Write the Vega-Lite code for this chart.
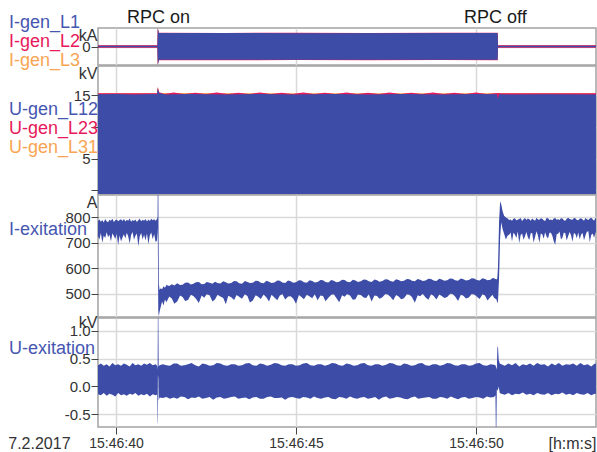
{
"$schema": "https://vega.github.io/schema/vega-lite/v6.json",
"padding": {"left": 8, "top": 8, "right": 0, "bottom": 0},
"background": "white",
"title": {"text": "7.2.2017", "orient": "bottom", "anchor": "start", "offset": -16, "fontSize": 16, "fontWeight": "normal", "color": "#333333", "font": "Liberation Sans"},
"config": {
  "font": "Liberation Sans",
  "view": {"stroke": "#a3a3a3", "strokeWidth": 1.5},
  "axis": {"gridColor": "#d9d9d9", "gridWidth": 1.5, "domain": false, "tickColor": "#444444", "tickSize": 7, "labelFont": "Liberation Sans", "labelFontSize": 15, "labelColor": "#333333", "labelPadding": 1, "titleFont": "Liberation Sans", "titleFontSize": 16, "titleFontWeight": "normal", "titleColor": "#333333"}
},
"datasets": {
  "events": [{"t": 41.18, "label": "RPC on"}, {"t": 50.54, "label": "RPC off"}],
  "igen": [
    {"s": "I-gen_L1", "t": 39.5, "hi": 0.035, "lo": -0.035},
    {"s": "I-gen_L1", "t": 41.15, "hi": 0.035, "lo": -0.035},
    {"s": "I-gen_L1", "t": 41.16, "hi": 0.88, "lo": -0.88},
    {"s": "I-gen_L1", "t": 41.175, "hi": 0.8, "lo": -0.8},
    {"s": "I-gen_L1", "t": 41.19, "hi": 0.66, "lo": -0.65},
    {"s": "I-gen_L1", "t": 45.0, "hi": 0.65, "lo": -0.65},
    {"s": "I-gen_L1", "t": 50.6, "hi": 0.66, "lo": -0.65},
    {"s": "I-gen_L1", "t": 50.61, "hi": 0.035, "lo": -0.035},
    {"s": "I-gen_L1", "t": 53.4, "hi": 0.035, "lo": -0.035},
    {"s": "I-gen_L2", "t": 39.5, "hi": 0.055, "lo": -0.055},
    {"s": "I-gen_L2", "t": 41.15, "hi": 0.055, "lo": -0.055},
    {"s": "I-gen_L2", "t": 41.16, "hi": 0.9, "lo": -0.9},
    {"s": "I-gen_L2", "t": 41.19, "hi": 0.668, "lo": -0.668},
    {"s": "I-gen_L2", "t": 43.0, "hi": 0.662, "lo": -0.666},
    {"s": "I-gen_L2", "t": 45.0, "hi": 0.668, "lo": -0.66},
    {"s": "I-gen_L2", "t": 47.0, "hi": 0.661, "lo": -0.668},
    {"s": "I-gen_L2", "t": 49.0, "hi": 0.668, "lo": -0.661},
    {"s": "I-gen_L2", "t": 50.6, "hi": 0.665, "lo": -0.665},
    {"s": "I-gen_L2", "t": 50.61, "hi": 0.055, "lo": -0.055},
    {"s": "I-gen_L2", "t": 53.4, "hi": 0.055, "lo": -0.055},
    {"s": "I-gen_L3", "t": 39.5, "hi": 0.05, "lo": -0.05},
    {"s": "I-gen_L3", "t": 41.15, "hi": 0.05, "lo": -0.05},
    {"s": "I-gen_L3", "t": 41.16, "hi": 0.89, "lo": -0.89},
    {"s": "I-gen_L3", "t": 41.19, "hi": 0.662, "lo": -0.662},
    {"s": "I-gen_L3", "t": 50.6, "hi": 0.662, "lo": -0.662},
    {"s": "I-gen_L3", "t": 50.61, "hi": 0.05, "lo": -0.05},
    {"s": "I-gen_L3", "t": 53.4, "hi": 0.05, "lo": -0.05}
  ],
  "ugen": [
    {"s": "U-gen_L12", "t": 39.5, "hi": 15.15}, {"s": "U-gen_L12", "t": 40.0, "hi": 15.2}, {"s": "U-gen_L12", "t": 40.5, "hi": 15.12}, {"s": "U-gen_L12", "t": 41.0, "hi": 15.2}, {"s": "U-gen_L12", "t": 41.14, "hi": 15.15}, {"s": "U-gen_L12", "t": 41.16, "hi": 16.1}, {"s": "U-gen_L12", "t": 41.2, "hi": 15.3}, {"s": "U-gen_L12", "t": 41.4, "hi": 15.12}, {"s": "U-gen_L12", "t": 42.0, "hi": 15.2}, {"s": "U-gen_L12", "t": 43.0, "hi": 15.12}, {"s": "U-gen_L12", "t": 44.0, "hi": 15.2}, {"s": "U-gen_L12", "t": 45.0, "hi": 15.12}, {"s": "U-gen_L12", "t": 46.0, "hi": 15.2}, {"s": "U-gen_L12", "t": 47.0, "hi": 15.12}, {"s": "U-gen_L12", "t": 48.0, "hi": 15.2}, {"s": "U-gen_L12", "t": 49.0, "hi": 15.12}, {"s": "U-gen_L12", "t": 50.0, "hi": 15.2}, {"s": "U-gen_L12", "t": 50.58, "hi": 15.15}, {"s": "U-gen_L12", "t": 50.61, "hi": 14.4}, {"s": "U-gen_L12", "t": 50.64, "hi": 15.15}, {"s": "U-gen_L12", "t": 51.0, "hi": 15.1}, {"s": "U-gen_L12", "t": 52.0, "hi": 15.15}, {"s": "U-gen_L12", "t": 53.4, "hi": 15.1},
    {"s": "U-gen_L23", "t": 39.5, "hi": 15.3}, {"s": "U-gen_L23", "t": 41.14, "hi": 15.3}, {"s": "U-gen_L23", "t": 41.16, "hi": 16.3}, {"s": "U-gen_L23", "t": 41.2, "hi": 15.45}, {"s": "U-gen_L23", "t": 41.35, "hi": 15.2}, {"s": "U-gen_L23", "t": 41.6, "hi": 15.4}, {"s": "U-gen_L23", "t": 41.9, "hi": 15.2}, {"s": "U-gen_L23", "t": 42.2, "hi": 15.38}, {"s": "U-gen_L23", "t": 42.5, "hi": 15.2}, {"s": "U-gen_L23", "t": 42.8, "hi": 15.4}, {"s": "U-gen_L23", "t": 43.1, "hi": 15.2}, {"s": "U-gen_L23", "t": 43.4, "hi": 15.38}, {"s": "U-gen_L23", "t": 43.7, "hi": 15.2}, {"s": "U-gen_L23", "t": 44.0, "hi": 15.4}, {"s": "U-gen_L23", "t": 44.3, "hi": 15.2}, {"s": "U-gen_L23", "t": 44.6, "hi": 15.38}, {"s": "U-gen_L23", "t": 44.9, "hi": 15.2}, {"s": "U-gen_L23", "t": 45.2, "hi": 15.4}, {"s": "U-gen_L23", "t": 45.5, "hi": 15.2}, {"s": "U-gen_L23", "t": 45.8, "hi": 15.38}, {"s": "U-gen_L23", "t": 46.1, "hi": 15.2}, {"s": "U-gen_L23", "t": 46.4, "hi": 15.4}, {"s": "U-gen_L23", "t": 46.7, "hi": 15.2}, {"s": "U-gen_L23", "t": 47.0, "hi": 15.38}, {"s": "U-gen_L23", "t": 47.3, "hi": 15.2}, {"s": "U-gen_L23", "t": 47.6, "hi": 15.4}, {"s": "U-gen_L23", "t": 47.9, "hi": 15.2}, {"s": "U-gen_L23", "t": 48.2, "hi": 15.38}, {"s": "U-gen_L23", "t": 48.5, "hi": 15.2}, {"s": "U-gen_L23", "t": 48.8, "hi": 15.4}, {"s": "U-gen_L23", "t": 49.1, "hi": 15.2}, {"s": "U-gen_L23", "t": 49.4, "hi": 15.38}, {"s": "U-gen_L23", "t": 49.7, "hi": 15.2}, {"s": "U-gen_L23", "t": 50.0, "hi": 15.4}, {"s": "U-gen_L23", "t": 50.3, "hi": 15.2}, {"s": "U-gen_L23", "t": 50.6, "hi": 15.35}, {"s": "U-gen_L23", "t": 50.7, "hi": 15.28}, {"s": "U-gen_L23", "t": 53.4, "hi": 15.28},
    {"s": "U-gen_L31", "t": 39.5, "hi": 15.3}, {"s": "U-gen_L31", "t": 41.14, "hi": 15.3}, {"s": "U-gen_L31", "t": 41.16, "hi": 16.2}, {"s": "U-gen_L31", "t": 41.2, "hi": 15.32}, {"s": "U-gen_L31", "t": 53.4, "hi": 15.3}
  ],
  "iex": [
    {"t": 39.5, "hi": 785, "lo": 725}, {"t": 39.54, "hi": 790, "lo": 712}, {"t": 39.58, "hi": 782, "lo": 738}, {"t": 39.62, "hi": 788, "lo": 700}, {"t": 39.66, "hi": 779, "lo": 728}, {"t": 39.7, "hi": 792, "lo": 718}, {"t": 39.74, "hi": 784, "lo": 741}, {"t": 39.78, "hi": 780, "lo": 722}, {"t": 39.82, "hi": 789, "lo": 731}, {"t": 39.86, "hi": 786, "lo": 705}, {"t": 39.9, "hi": 793, "lo": 737}, {"t": 39.94, "hi": 781, "lo": 726}, {"t": 39.98, "hi": 787, "lo": 714}, {"t": 40.02, "hi": 790, "lo": 735}, {"t": 40.06, "hi": 784, "lo": 690}, {"t": 40.1, "hi": 788, "lo": 728}, {"t": 40.14, "hi": 791, "lo": 705}, {"t": 40.18, "hi": 785, "lo": 720}, {"t": 40.22, "hi": 792, "lo": 733}, {"t": 40.26, "hi": 783, "lo": 716}, {"t": 40.3, "hi": 789, "lo": 739}, {"t": 40.34, "hi": 786, "lo": 724}, {"t": 40.38, "hi": 794, "lo": 697}, {"t": 40.42, "hi": 782, "lo": 730}, {"t": 40.46, "hi": 788, "lo": 742}, {"t": 40.5, "hi": 785, "lo": 711}, {"t": 40.54, "hi": 790, "lo": 727}, {"t": 40.58, "hi": 781, "lo": 736}, {"t": 40.62, "hi": 787, "lo": 686}, {"t": 40.66, "hi": 793, "lo": 725}, {"t": 40.7, "hi": 784, "lo": 738}, {"t": 40.74, "hi": 789, "lo": 712}, {"t": 40.78, "hi": 786, "lo": 731}, {"t": 40.82, "hi": 792, "lo": 708}, {"t": 40.86, "hi": 783, "lo": 736}, {"t": 40.9, "hi": 790, "lo": 694}, {"t": 40.94, "hi": 785, "lo": 729}, {"t": 40.98, "hi": 793, "lo": 740}, {"t": 41.02, "hi": 787, "lo": 713}, {"t": 41.06, "hi": 791, "lo": 734}, {"t": 41.1, "hi": 786, "lo": 703}, {"t": 41.14, "hi": 792, "lo": 708},
    {"t": 41.155, "hi": 800, "lo": 740}, {"t": 41.16, "hi": 940, "lo": 760}, {"t": 41.175, "hi": 940, "lo": 430}, {"t": 41.19, "hi": 540, "lo": 412}, {"t": 41.21, "hi": 515, "lo": 430}, {"t": 41.24, "hi": 522, "lo": 448}, {"t": 41.28, "hi": 518, "lo": 470}, {"t": 41.32, "hi": 530, "lo": 455}, {"t": 41.36, "hi": 524, "lo": 478}, {"t": 41.4, "hi": 535, "lo": 468},
    {"t": 41.48, "hi": 531, "lo": 490}, {"t": 41.55, "hi": 538, "lo": 482}, {"t": 41.62, "hi": 533, "lo": 462}, {"t": 41.7, "hi": 542, "lo": 470}, {"t": 41.78, "hi": 535, "lo": 494}, {"t": 41.85, "hi": 536, "lo": 488}, {"t": 41.92, "hi": 544, "lo": 472}, {"t": 42.0, "hi": 545, "lo": 476}, {"t": 42.08, "hi": 537, "lo": 497}, {"t": 42.15, "hi": 540, "lo": 492}, {"t": 42.22, "hi": 546, "lo": 481}, {"t": 42.3, "hi": 547, "lo": 465}, {"t": 42.38, "hi": 538, "lo": 494}, {"t": 42.45, "hi": 539, "lo": 485}, {"t": 42.52, "hi": 547, "lo": 499}, {"t": 42.6, "hi": 544, "lo": 495}, {"t": 42.68, "hi": 540, "lo": 470}, {"t": 42.75, "hi": 548, "lo": 478}, {"t": 42.82, "hi": 543, "lo": 497}, {"t": 42.9, "hi": 541, "lo": 490}, {"t": 42.98, "hi": 549, "lo": 484}, {"t": 43.05, "hi": 546, "lo": 460}, {"t": 43.12, "hi": 541, "lo": 493}, {"t": 43.2, "hi": 543, "lo": 487}, {"t": 43.28, "hi": 550, "lo": 476}, {"t": 43.35, "hi": 549, "lo": 496}, {"t": 43.42, "hi": 542, "lo": 489}, {"t": 43.5, "hi": 540, "lo": 481}, {"t": 43.58, "hi": 550, "lo": 499}, {"t": 43.65, "hi": 547, "lo": 492}, {"t": 43.72, "hi": 543, "lo": 467}, {"t": 43.8, "hi": 544, "lo": 474}, {"t": 43.88, "hi": 551, "lo": 495}, {"t": 43.95, "hi": 550, "lo": 489}, {"t": 44.02, "hi": 544, "lo": 480}, {"t": 44.1, "hi": 542, "lo": 498}, {"t": 44.18, "hi": 551, "lo": 486}, {"t": 44.25, "hi": 548, "lo": 470}, {"t": 44.32, "hi": 543, "lo": 497}, {"t": 44.4, "hi": 545, "lo": 486}, {"t": 44.48, "hi": 552, "lo": 475}, {"t": 44.55, "hi": 551, "lo": 494}, {"t": 44.62, "hi": 545, "lo": 500}, {"t": 44.7, "hi": 543, "lo": 478}, {"t": 44.78, "hi": 552, "lo": 490}, {"t": 44.85, "hi": 549, "lo": 491}, {"t": 44.92, "hi": 544, "lo": 482}, {"t": 45.0, "hi": 546, "lo": 462}, {"t": 45.08, "hi": 553, "lo": 496}, {"t": 45.15, "hi": 552, "lo": 488}, {"t": 45.22, "hi": 546, "lo": 479}, {"t": 45.3, "hi": 544, "lo": 497}, {"t": 45.38, "hi": 553, "lo": 490}, {"t": 45.45, "hi": 550, "lo": 483}, {"t": 45.52, "hi": 545, "lo": 499}, {"t": 45.6, "hi": 547, "lo": 475}, {"t": 45.68, "hi": 554, "lo": 494}, {"t": 45.75, "hi": 553, "lo": 492}, {"t": 45.82, "hi": 547, "lo": 471}, {"t": 45.9, "hi": 545, "lo": 485}, {"t": 45.98, "hi": 554, "lo": 497}, {"t": 46.05, "hi": 551, "lo": 499}, {"t": 46.12, "hi": 546, "lo": 484}, {"t": 46.2, "hi": 548, "lo": 468}, {"t": 46.28, "hi": 555, "lo": 495}, {"t": 46.35, "hi": 554, "lo": 489}, {"t": 46.42, "hi": 548, "lo": 500}, {"t": 46.5, "hi": 546, "lo": 494}, {"t": 46.58, "hi": 555, "lo": 477}, {"t": 46.65, "hi": 552, "lo": 479}, {"t": 46.72, "hi": 547, "lo": 498}, {"t": 46.8, "hi": 549, "lo": 496}, {"t": 46.88, "hi": 556, "lo": 486}, {"t": 46.95, "hi": 555, "lo": 484}, {"t": 47.02, "hi": 549, "lo": 499}, {"t": 47.1, "hi": 547, "lo": 470}, {"t": 47.18, "hi": 556, "lo": 494}, {"t": 47.25, "hi": 553, "lo": 492}, {"t": 47.32, "hi": 548, "lo": 481}, {"t": 47.4, "hi": 550, "lo": 487}, {"t": 47.48, "hi": 557, "lo": 500}, {"t": 47.55, "hi": 556, "lo": 498}, {"t": 47.62, "hi": 550, "lo": 489}, {"t": 47.7, "hi": 548, "lo": 475}, {"t": 47.78, "hi": 557, "lo": 496}, {"t": 47.85, "hi": 554, "lo": 490}, {"t": 47.92, "hi": 549, "lo": 479}, {"t": 48.0, "hi": 551, "lo": 483}, {"t": 48.08, "hi": 558, "lo": 499}, {"t": 48.15, "hi": 557, "lo": 497}, {"t": 48.22, "hi": 551, "lo": 488}, {"t": 48.3, "hi": 549, "lo": 466}, {"t": 48.38, "hi": 558, "lo": 495}, {"t": 48.45, "hi": 555, "lo": 491}, {"t": 48.52, "hi": 550, "lo": 501}, {"t": 48.6, "hi": 552, "lo": 486}, {"t": 48.68, "hi": 559, "lo": 477}, {"t": 48.75, "hi": 558, "lo": 499}, {"t": 48.82, "hi": 552, "lo": 493}, {"t": 48.9, "hi": 550, "lo": 478}, {"t": 48.98, "hi": 559, "lo": 498}, {"t": 49.05, "hi": 556, "lo": 492}, {"t": 49.12, "hi": 551, "lo": 484}, {"t": 49.2, "hi": 553, "lo": 488}, {"t": 49.28, "hi": 560, "lo": 501}, {"t": 49.35, "hi": 559, "lo": 500}, {"t": 49.42, "hi": 553, "lo": 490}, {"t": 49.5, "hi": 551, "lo": 472}, {"t": 49.58, "hi": 560, "lo": 497}, {"t": 49.65, "hi": 557, "lo": 493}, {"t": 49.72, "hi": 552, "lo": 482}, {"t": 49.8, "hi": 554, "lo": 486}, {"t": 49.88, "hi": 561, "lo": 500}, {"t": 49.95, "hi": 560, "lo": 498}, {"t": 50.02, "hi": 554, "lo": 490}, {"t": 50.1, "hi": 552, "lo": 480}, {"t": 50.18, "hi": 561, "lo": 499}, {"t": 50.25, "hi": 558, "lo": 494}, {"t": 50.32, "hi": 553, "lo": 474}, {"t": 50.4, "hi": 555, "lo": 488}, {"t": 50.46, "hi": 562, "lo": 497}, {"t": 50.5, "hi": 561, "lo": 485}, {"t": 50.57, "hi": 556, "lo": 478},
    {"t": 50.59, "hi": 560, "lo": 465}, {"t": 50.61, "hi": 600, "lo": 470}, {"t": 50.64, "hi": 780, "lo": 560}, {"t": 50.67, "hi": 862, "lo": 720}, {"t": 50.7, "hi": 850, "lo": 780}, {"t": 50.74, "hi": 822, "lo": 752}, {"t": 50.78, "hi": 805, "lo": 735}, {"t": 50.83, "hi": 798, "lo": 712}, {"t": 50.88, "hi": 794, "lo": 728},
    {"t": 50.92, "hi": 788, "lo": 731}, {"t": 50.96, "hi": 790, "lo": 740}, {"t": 51.0, "hi": 786, "lo": 705}, {"t": 51.04, "hi": 793, "lo": 739}, {"t": 51.08, "hi": 795, "lo": 732}, {"t": 51.12, "hi": 787, "lo": 718}, {"t": 51.16, "hi": 789, "lo": 744}, {"t": 51.2, "hi": 792, "lo": 698}, {"t": 51.24, "hi": 796, "lo": 730}, {"t": 51.28, "hi": 785, "lo": 736}, {"t": 51.32, "hi": 791, "lo": 711}, {"t": 51.36, "hi": 796, "lo": 725}, {"t": 51.4, "hi": 788, "lo": 742}, {"t": 51.44, "hi": 794, "lo": 721}, {"t": 51.48, "hi": 791, "lo": 710}, {"t": 51.52, "hi": 786, "lo": 737}, {"t": 51.56, "hi": 794, "lo": 738}, {"t": 51.6, "hi": 789, "lo": 701}, {"t": 51.64, "hi": 786, "lo": 722}, {"t": 51.68, "hi": 797, "lo": 745}, {"t": 51.72, "hi": 790, "lo": 728}, {"t": 51.76, "hi": 789, "lo": 700}, {"t": 51.8, "hi": 795, "lo": 736}, {"t": 51.84, "hi": 793, "lo": 733}, {"t": 51.88, "hi": 787, "lo": 715}, {"t": 51.92, "hi": 785, "lo": 741}, {"t": 51.96, "hi": 796, "lo": 724}, {"t": 52.0, "hi": 795, "lo": 716}, {"t": 52.04, "hi": 788, "lo": 739}, {"t": 52.08, "hi": 790, "lo": 739}, {"t": 52.12, "hi": 787, "lo": 727}, {"t": 52.16, "hi": 794, "lo": 706}, {"t": 52.2, "hi": 796, "lo": 692}, {"t": 52.24, "hi": 789, "lo": 733}, {"t": 52.28, "hi": 791, "lo": 735}, {"t": 52.32, "hi": 788, "lo": 744}, {"t": 52.36, "hi": 795, "lo": 712}, {"t": 52.4, "hi": 794, "lo": 719}, {"t": 52.44, "hi": 787, "lo": 740}, {"t": 52.48, "hi": 786, "lo": 737}, {"t": 52.52, "hi": 793, "lo": 708}, {"t": 52.56, "hi": 797, "lo": 726}, {"t": 52.6, "hi": 792, "lo": 742}, {"t": 52.64, "hi": 790, "lo": 729}, {"t": 52.68, "hi": 789, "lo": 704}, {"t": 52.72, "hi": 796, "lo": 738}, {"t": 52.76, "hi": 795, "lo": 734}, {"t": 52.8, "hi": 788, "lo": 717}, {"t": 52.84, "hi": 787, "lo": 740}, {"t": 52.88, "hi": 793, "lo": 713}, {"t": 52.92, "hi": 795, "lo": 732}, {"t": 52.96, "hi": 790, "lo": 738}, {"t": 53.0, "hi": 786, "lo": 709}, {"t": 53.04, "hi": 796, "lo": 728}, {"t": 53.08, "hi": 791, "lo": 743}, {"t": 53.12, "hi": 788, "lo": 745}, {"t": 53.16, "hi": 794, "lo": 702}, {"t": 53.2, "hi": 797, "lo": 730}, {"t": 53.24, "hi": 791, "lo": 736}, {"t": 53.28, "hi": 786, "lo": 719}, {"t": 53.32, "hi": 797, "lo": 741}, {"t": 53.36, "hi": 792, "lo": 733}, {"t": 53.4, "hi": 789, "lo": 725}
  ],
  "uex": [
    {"t": 39.5, "hi": 0.38, "lo": -0.14}, {"t": 39.58, "hi": 0.41, "lo": -0.16}, {"t": 39.66, "hi": 0.37, "lo": -0.12}, {"t": 39.74, "hi": 0.40, "lo": -0.17}, {"t": 39.82, "hi": 0.36, "lo": -0.13}, {"t": 39.9, "hi": 0.42, "lo": -0.15}, {"t": 39.98, "hi": 0.38, "lo": -0.18}, {"t": 40.06, "hi": 0.40, "lo": -0.12}, {"t": 40.14, "hi": 0.37, "lo": -0.16}, {"t": 40.22, "hi": 0.41, "lo": -0.14}, {"t": 40.3, "hi": 0.39, "lo": -0.17}, {"t": 40.38, "hi": 0.36, "lo": -0.13}, {"t": 40.46, "hi": 0.42, "lo": -0.15}, {"t": 40.54, "hi": 0.38, "lo": -0.12}, {"t": 40.62, "hi": 0.40, "lo": -0.17}, {"t": 40.7, "hi": 0.37, "lo": -0.14}, {"t": 40.78, "hi": 0.41, "lo": -0.16}, {"t": 40.86, "hi": 0.39, "lo": -0.13}, {"t": 40.94, "hi": 0.42, "lo": -0.18}, {"t": 41.02, "hi": 0.38, "lo": -0.14}, {"t": 41.1, "hi": 0.40, "lo": -0.16}, {"t": 41.14, "hi": 0.37, "lo": -0.15},
    {"t": 41.148, "hi": 0.35, "lo": -0.68}, {"t": 41.156, "hi": 0.30, "lo": -0.62}, {"t": 41.164, "hi": 1.4, "lo": 0.2}, {"t": 41.175, "hi": 1.4, "lo": 0.15}, {"t": 41.185, "hi": 0.36, "lo": -0.26}, {"t": 41.21, "hi": 0.38, "lo": -0.2},
    {"t": 41.3, "hi": 0.40, "lo": -0.21}, {"t": 41.4, "hi": 0.38, "lo": -0.19}, {"t": 41.5, "hi": 0.37, "lo": -0.22}, {"t": 41.6, "hi": 0.41, "lo": -0.2}, {"t": 41.7, "hi": 0.41, "lo": -0.22}, {"t": 41.8, "hi": 0.37, "lo": -0.18}, {"t": 41.9, "hi": 0.38, "lo": -0.19}, {"t": 42.0, "hi": 0.40, "lo": -0.23}, {"t": 42.1, "hi": 0.42, "lo": -0.2}, {"t": 42.2, "hi": 0.38, "lo": -0.21}, {"t": 42.3, "hi": 0.36, "lo": -0.18}, {"t": 42.4, "hi": 0.41, "lo": -0.22}, {"t": 42.5, "hi": 0.40, "lo": -0.21}, {"t": 42.6, "hi": 0.37, "lo": -0.19}, {"t": 42.7, "hi": 0.38, "lo": -0.24}, {"t": 42.8, "hi": 0.42, "lo": -0.2}, {"t": 42.9, "hi": 0.41, "lo": -0.19}, {"t": 43.0, "hi": 0.38, "lo": -0.22}, {"t": 43.1, "hi": 0.37, "lo": -0.21}, {"t": 43.2, "hi": 0.40, "lo": -0.19}, {"t": 43.3, "hi": 0.40, "lo": -0.18}, {"t": 43.4, "hi": 0.37, "lo": -0.22}, {"t": 43.5, "hi": 0.38, "lo": -0.21}, {"t": 43.6, "hi": 0.41, "lo": -0.2}, {"t": 43.7, "hi": 0.42, "lo": -0.23}, {"t": 43.8, "hi": 0.38, "lo": -0.2}, {"t": 43.9, "hi": 0.37, "lo": -0.19}, {"t": 44.0, "hi": 0.41, "lo": -0.22}, {"t": 44.1, "hi": 0.40, "lo": -0.22}, {"t": 44.2, "hi": 0.37, "lo": -0.19}, {"t": 44.3, "hi": 0.39, "lo": -0.18}, {"t": 44.4, "hi": 0.42, "lo": -0.21}, {"t": 44.5, "hi": 0.41, "lo": -0.21}, {"t": 44.6, "hi": 0.38, "lo": -0.2}, {"t": 44.7, "hi": 0.37, "lo": -0.24}, {"t": 44.8, "hi": 0.40, "lo": -0.2}, {"t": 44.9, "hi": 0.40, "lo": -0.19}, {"t": 45.0, "hi": 0.37, "lo": -0.21}, {"t": 45.1, "hi": 0.38, "lo": -0.22}, {"t": 45.2, "hi": 0.41, "lo": -0.19}, {"t": 45.3, "hi": 0.42, "lo": -0.2}, {"t": 45.4, "hi": 0.38, "lo": -0.22}, {"t": 45.5, "hi": 0.37, "lo": -0.18}, {"t": 45.6, "hi": 0.40, "lo": -0.21}, {"t": 45.7, "hi": 0.40, "lo": -0.22}, {"t": 45.8, "hi": 0.37, "lo": -0.2}, {"t": 45.9, "hi": 0.39, "lo": -0.19}, {"t": 46.0, "hi": 0.42, "lo": -0.22}, {"t": 46.1, "hi": 0.41, "lo": -0.23}, {"t": 46.2, "hi": 0.38, "lo": -0.19}, {"t": 46.3, "hi": 0.37, "lo": -0.2}, {"t": 46.4, "hi": 0.41, "lo": -0.22}, {"t": 46.5, "hi": 0.40, "lo": -0.18}, {"t": 46.6, "hi": 0.37, "lo": -0.21}, {"t": 46.7, "hi": 0.38, "lo": -0.22}, {"t": 46.8, "hi": 0.41, "lo": -0.2}, {"t": 46.9, "hi": 0.42, "lo": -0.19}, {"t": 47.0, "hi": 0.38, "lo": -0.22}, {"t": 47.1, "hi": 0.37, "lo": -0.21}, {"t": 47.2, "hi": 0.40, "lo": -0.19}, {"t": 47.3, "hi": 0.40, "lo": -0.24}, {"t": 47.4, "hi": 0.37, "lo": -0.2}, {"t": 47.5, "hi": 0.39, "lo": -0.18}, {"t": 47.6, "hi": 0.42, "lo": -0.22}, {"t": 47.7, "hi": 0.41, "lo": -0.21}, {"t": 47.8, "hi": 0.38, "lo": -0.19}, {"t": 47.9, "hi": 0.37, "lo": -0.2}, {"t": 48.0, "hi": 0.41, "lo": -0.22}, {"t": 48.1, "hi": 0.40, "lo": -0.23}, {"t": 48.2, "hi": 0.37, "lo": -0.2}, {"t": 48.3, "hi": 0.38, "lo": -0.18}, {"t": 48.4, "hi": 0.41, "lo": -0.22}, {"t": 48.5, "hi": 0.42, "lo": -0.21}, {"t": 48.6, "hi": 0.38, "lo": -0.2}, {"t": 48.7, "hi": 0.37, "lo": -0.19}, {"t": 48.8, "hi": 0.40, "lo": -0.22}, {"t": 48.9, "hi": 0.40, "lo": -0.22}, {"t": 49.0, "hi": 0.37, "lo": -0.19}, {"t": 49.1, "hi": 0.39, "lo": -0.2}, {"t": 49.2, "hi": 0.42, "lo": -0.22}, {"t": 49.3, "hi": 0.41, "lo": -0.18}, {"t": 49.4, "hi": 0.38, "lo": -0.21}, {"t": 49.5, "hi": 0.37, "lo": -0.23}, {"t": 49.6, "hi": 0.40, "lo": -0.2}, {"t": 49.7, "hi": 0.40, "lo": -0.19}, {"t": 49.8, "hi": 0.37, "lo": -0.22}, {"t": 49.9, "hi": 0.38, "lo": -0.21}, {"t": 50.0, "hi": 0.41, "lo": -0.19}, {"t": 50.1, "hi": 0.42, "lo": -0.2}, {"t": 50.2, "hi": 0.38, "lo": -0.22}, {"t": 50.3, "hi": 0.37, "lo": -0.18}, {"t": 50.4, "hi": 0.40, "lo": -0.2}, {"t": 50.5, "hi": 0.39, "lo": -0.19}, {"t": 50.54, "hi": 0.38, "lo": -0.16},
    {"t": 50.552, "hi": 0.36, "lo": -0.85}, {"t": 50.565, "hi": 0.33, "lo": -0.8}, {"t": 50.578, "hi": 0.3, "lo": -0.05}, {"t": 50.595, "hi": 0.72, "lo": -0.08}, {"t": 50.612, "hi": 0.7, "lo": -0.05}, {"t": 50.63, "hi": 0.48, "lo": 0.0}, {"t": 50.66, "hi": 0.41, "lo": -0.12},
    {"t": 50.7, "hi": 0.4, "lo": -0.13}, {"t": 50.8, "hi": 0.37, "lo": -0.15}, {"t": 50.9, "hi": 0.41, "lo": -0.12}, {"t": 51.0, "hi": 0.38, "lo": -0.16}, {"t": 51.1, "hi": 0.42, "lo": -0.13}, {"t": 51.2, "hi": 0.36, "lo": -0.14}, {"t": 51.3, "hi": 0.40, "lo": -0.11}, {"t": 51.4, "hi": 0.38, "lo": -0.15}, {"t": 51.5, "hi": 0.41, "lo": -0.13}, {"t": 51.6, "hi": 0.37, "lo": -0.16}, {"t": 51.7, "hi": 0.42, "lo": -0.12}, {"t": 51.8, "hi": 0.39, "lo": -0.14}, {"t": 51.9, "hi": 0.40, "lo": -0.15}, {"t": 52.0, "hi": 0.36, "lo": -0.12}, {"t": 52.1, "hi": 0.41, "lo": -0.16}, {"t": 52.2, "hi": 0.38, "lo": -0.13}, {"t": 52.3, "hi": 0.42, "lo": -0.14}, {"t": 52.4, "hi": 0.37, "lo": -0.11}, {"t": 52.5, "hi": 0.40, "lo": -0.15}, {"t": 52.6, "hi": 0.39, "lo": -0.13}, {"t": 52.7, "hi": 0.41, "lo": -0.16}, {"t": 52.8, "hi": 0.37, "lo": -0.12}, {"t": 52.9, "hi": 0.42, "lo": -0.14}, {"t": 53.0, "hi": 0.38, "lo": -0.15}, {"t": 53.1, "hi": 0.40, "lo": -0.12}, {"t": 53.2, "hi": 0.36, "lo": -0.16}, {"t": 53.3, "hi": 0.41, "lo": -0.13}, {"t": 53.4, "hi": 0.39, "lo": -0.14}
  ]
},
"vconcat": [
  {
    "width": 498, "height": 37,
    "layer": [
      {"data": {"name": "igen"}, "transform": [{"filter": "datum.s == 'I-gen_L3'"}],
       "mark": {"type": "area", "clip": true, "opacity": 1},
       "encoding": {
         "x": {"field": "t", "type": "quantitative", "scale": {"domain": [39.5, 53.333], "nice": false, "zero": false}, "axis": {"values": [40, 45, 50], "labels": false, "ticks": false, "title": null, "grid": true}},
         "y": {"field": "hi", "type": "quantitative", "stack": null, "scale": {"domain": [-0.9, 0.9], "nice": false, "zero": false}, "axis": {"values": [0], "title": "kA", "titleAngle": 0, "titleAlign": "right", "titleBaseline": "top", "titleX": -1, "titleY": -1, "grid": true}},
         "y2": {"field": "lo"},
         "color": {"field": "s", "type": "nominal", "scale": {"domain": ["I-gen_L1", "I-gen_L2", "I-gen_L3"], "range": ["#3c4ca7", "#e5195c", "#f9a550"]},
           "legend": {"orient": "none", "legendX": -89, "legendY": -14, "title": null, "labelFont": "Liberation Sans", "labelFontSize": 18, "labelLimit": 200, "symbolSize": 0, "symbolOpacity": 0, "symbolStrokeWidth": 0, "symbolType": "circle", "labelOffset": 0, "rowPadding": 1, "padding": 0,
             "encode": {"labels": {"update": {"dx": {"value": -18}, "fill": {"signal": "datum.value == 'I-gen_L2' ? '#e8185a' : datum.value == 'I-gen_L3' ? '#f8a553' : '#4556b1'"}}}}}}
       }},
      {"data": {"name": "igen"}, "transform": [{"filter": "datum.s == 'I-gen_L2'"}],
       "mark": {"type": "area", "clip": true, "opacity": 1},
       "encoding": {"x": {"field": "t", "type": "quantitative"}, "y": {"field": "hi", "type": "quantitative", "stack": null}, "y2": {"field": "lo"}, "color": {"field": "s", "type": "nominal"}}},
      {"data": {"name": "igen"}, "transform": [{"filter": "datum.s == 'I-gen_L1'"}],
       "mark": {"type": "area", "clip": true, "opacity": 1},
       "encoding": {"x": {"field": "t", "type": "quantitative"}, "y": {"field": "hi", "type": "quantitative", "stack": null}, "y2": {"field": "lo"}, "color": {"field": "s", "type": "nominal"}}},
      {"data": {"name": "events"},
       "mark": {"type": "text", "fontSize": 18, "baseline": "alphabetic", "dy": -5, "color": "#1a1a1a", "font": "Liberation Sans"},
       "encoding": {"x": {"field": "t", "type": "quantitative"}, "y": {"value": 0}, "text": {"field": "label"}}}
    ]
  },
  {
    "width": 498, "height": 128,
    "layer": [
      {"data": {"name": "ugen"}, "transform": [{"filter": "datum.s == 'U-gen_L31'"}],
       "mark": {"type": "area", "clip": true, "opacity": 1},
       "encoding": {
         "x": {"field": "t", "type": "quantitative", "scale": {"domain": [39.5, 53.333], "nice": false, "zero": false}, "axis": {"values": [40, 45, 50], "labels": false, "ticks": false, "title": null, "grid": true}},
         "y": {"field": "hi", "type": "quantitative", "stack": null, "scale": {"domain": [-0.6, 19.6], "nice": false, "zero": false}, "axis": {"values": [0, 5, 10, 15], "labelExpr": "datum.value == 5 || datum.value == 15 ? datum.label : ''", "title": "kV", "titleAngle": 0, "titleAlign": "right", "titleBaseline": "top", "titleX": -1, "titleY": -1, "grid": true}},
         "y2": {"datum": -16},
         "color": {"field": "s", "type": "nominal", "scale": {"domain": ["U-gen_L12", "U-gen_L23", "U-gen_L31"], "range": ["#3c4ca7", "#e5195c", "#f9a550"]},
           "legend": {"orient": "none", "legendX": -89, "legendY": 35, "title": null, "labelFont": "Liberation Sans", "labelFontSize": 18, "labelLimit": 200, "symbolSize": 0, "symbolOpacity": 0, "symbolStrokeWidth": 0, "symbolType": "circle", "labelOffset": 0, "rowPadding": 1, "padding": 0,
             "encode": {"labels": {"update": {"dx": {"value": -18}, "fill": {"signal": "datum.value == 'U-gen_L23' ? '#e8185a' : datum.value == 'U-gen_L31' ? '#f8a553' : '#4556b1'"}}}}}}
       }},
      {"data": {"name": "ugen"}, "transform": [{"filter": "datum.s == 'U-gen_L23'"}],
       "mark": {"type": "area", "clip": true, "opacity": 1},
       "encoding": {"x": {"field": "t", "type": "quantitative"}, "y": {"field": "hi", "type": "quantitative", "stack": null}, "y2": {"datum": -16}, "color": {"field": "s", "type": "nominal"}}},
      {"data": {"name": "ugen"}, "transform": [{"filter": "datum.s == 'U-gen_L12'"}],
       "mark": {"type": "area", "clip": true, "opacity": 1},
       "encoding": {"x": {"field": "t", "type": "quantitative"}, "y": {"field": "hi", "type": "quantitative", "stack": null}, "y2": {"datum": -16}, "color": {"field": "s", "type": "nominal"}}}
    ]
  },
  {
    "width": 498, "height": 122,
    "data": {"name": "iex"},
    "mark": {"type": "area", "clip": true, "opacity": 1},
    "encoding": {
      "x": {"field": "t", "type": "quantitative", "scale": {"domain": [39.5, 53.333], "nice": false, "zero": false}, "axis": {"values": [40, 45, 50], "labels": false, "ticks": false, "title": null, "grid": true}},
      "y": {"field": "hi", "type": "quantitative", "stack": null, "scale": {"domain": [410, 886], "nice": false, "zero": false}, "axis": {"values": [500, 600, 700, 800], "title": "A", "titleAngle": 0, "titleAlign": "right", "titleBaseline": "top", "titleX": -1, "titleY": -1, "grid": true}},
      "y2": {"field": "lo"},
      "color": {"datum": "I-exitation", "type": "nominal", "scale": {"domain": ["I-exitation"], "range": ["#3c4ca7"]},
        "legend": {"orient": "none", "legendX": -89, "legendY": 26, "title": null, "labelFont": "Liberation Sans", "labelFontSize": 18, "labelLimit": 200, "symbolSize": 0, "symbolOpacity": 0, "symbolStrokeWidth": 0, "symbolType": "circle", "labelOffset": 0, "padding": 0,
          "encode": {"labels": {"update": {"dx": {"value": -18}, "fill": {"value": "#4556b1"}}}}}}
    }
  },
  {
    "width": 498, "height": 109,
    "data": {"name": "uex"},
    "mark": {"type": "area", "clip": true, "opacity": 1},
    "encoding": {
      "x": {"field": "t", "type": "quantitative", "scale": {"domain": [39.5, 53.333], "nice": false, "zero": false}, "axis": {"values": [40, 45, 50], "labelExpr": "'15:46:' + datum.value", "labelFontSize": 14, "labelPadding": 2, "tickSize": 7, "title": "[h:m:s]", "titleAngle": 0, "titleAlign": "right", "titleBaseline": "top", "titleX": 498, "titleY": 8, "grid": true}},
      "y": {"field": "hi", "type": "quantitative", "stack": null, "scale": {"domain": [-0.73, 1.23], "nice": false, "zero": false}, "axis": {"values": [-0.5, 0, 0.5, 1], "format": ".1f", "labelExpr": "replace(datum.label, '−', '-')", "title": "kV", "titleAngle": 0, "titleAlign": "right", "titleBaseline": "top", "titleX": -1, "titleY": -4, "grid": true}},
      "y2": {"field": "lo"},
      "color": {"datum": "U-exitation", "type": "nominal", "scale": {"domain": ["U-exitation"], "range": ["#3c4ca7"]},
        "legend": {"orient": "none", "legendX": -89, "legendY": 22, "title": null, "labelFont": "Liberation Sans", "labelFontSize": 18, "labelLimit": 200, "symbolSize": 0, "symbolOpacity": 0, "symbolStrokeWidth": 0, "symbolType": "circle", "labelOffset": 0, "padding": 0,
          "encode": {"labels": {"update": {"dx": {"value": -18}, "fill": {"value": "#4556b1"}}}}}}
    }
  }
],
"spacing": 1,
"bounds": "flush",
"resolve": {"scale": {"color": "independent", "y": "independent", "x": "independent"}}
}
